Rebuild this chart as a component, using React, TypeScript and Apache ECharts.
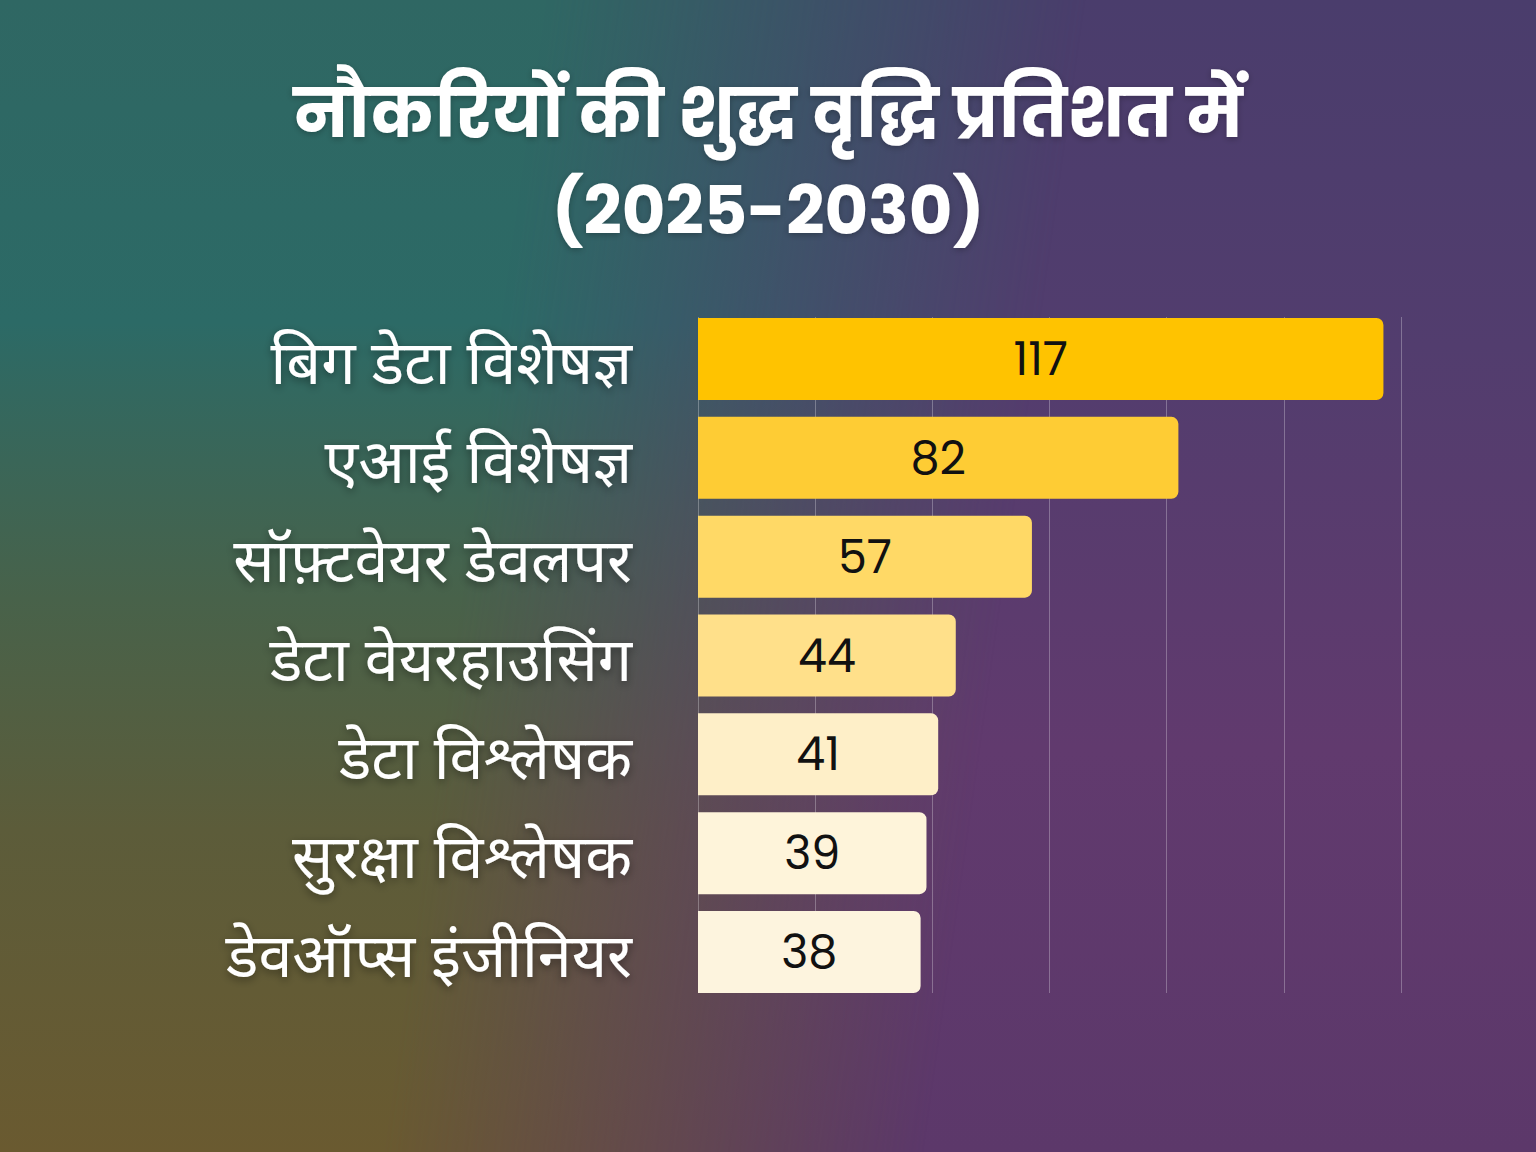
import React, { useEffect, useRef } from "react";
import * as echarts from "echarts";

const categories = [
  "बिग डेटा विशेषज्ञ",
  "एआई विशेषज्ञ",
  "सॉफ़्टवेयर डेवलपर",
  "डेटा वेयरहाउसिंग",
  "डेटा विश्लेषक",
  "सुरक्षा विश्लेषक",
  "डेवऑप्स इंजीनियर",
];
const values = [117, 82, 57, 44, 41, 39, 38];
const barColors = ["#FFC300", "#FECC34", "#FFD966", "#FFE08A", "#FEEFC8", "#FEF4DA", "#FDF4DE"];
const titleText = "नौकरियों की शुद्ध वृद्धि प्रतिशत में\n(2025-2030)";

const DEVA = "'Noto Sans Devanagari', 'Noto Sans', 'Lohit Devanagari', 'Mukta', sans-serif";

export default function App() {
  const ref = useRef<HTMLDivElement>(null);
  useEffect(() => {
    if (!ref.current) return;
    const chart = echarts.init(ref.current, undefined, { renderer: "svg" });
    const labelStyle = {
      color: "#ffffff",
      fontSize: 61,
      fontFamily: DEVA,
      lineHeight: 72,
      textShadowColor: "rgba(0,0,0,0.4)",
      textShadowBlur: 8,
      textShadowOffsetY: 3,
    };
    chart.setOption({
      animation: false,
      backgroundColor: "transparent",
      title: {
        text: titleText,
        left: "center",
        top: 60,
        textStyle: {
          color: "#ffffff",
          fontSize: 67,
          fontWeight: "bold",
          fontFamily: "Poppins, " + DEVA,
          lineHeight: 97,
          textShadowColor: "rgba(0,0,0,0.25)",
          textShadowBlur: 6,
          textShadowOffsetY: 2,
        },
      },
      grid: [
        { left: 698, right: 135, top: 309.6, bottom: 150.6 },
        { left: 698, right: 135, top: 317, bottom: 159 },
      ],
      xAxis: [
        {
          gridIndex: 0,
          type: "value",
          min: 0,
          max: 120,
          interval: 20,
          axisLabel: { show: false },
          axisLine: { show: false },
          axisTick: { show: false },
          splitLine: { show: false },
        },
        {
          gridIndex: 1,
          type: "value",
          min: 0,
          max: 120,
          interval: 20,
          axisLabel: { show: false },
          axisLine: { show: false },
          axisTick: { show: false },
          splitLine: { show: true, lineStyle: { color: "rgba(255,255,255,0.28)", width: 1 } },
        },
      ],
      yAxis: [
        {
          gridIndex: 0,
          type: "category",
          data: categories,
          inverse: true,
          axisLine: { show: false },
          axisTick: { show: false },
          splitLine: { show: false },
          axisLabel: {
            margin: 66,
            formatter: (v: string) => "{s| }\n{a|" + v + "}",
            rich: {
              s: { fontSize: 1, lineHeight: 20 },
              a: labelStyle,
            },
            ...labelStyle,
          },
        },
        {
          gridIndex: 1,
          type: "value",
          min: 0,
          max: 1,
          show: false,
        },
      ],
      series: [
        {
          type: "bar",
          xAxisIndex: 0,
          yAxisIndex: 0,
          barWidth: 82,
          data: values.map((v, i) => ({
            value: v,
            itemStyle: { color: barColors[i], borderRadius: [0, 7, 7, 0] },
          })),
          label: {
            show: true,
            position: "inside",
            color: "#111111",
            fontSize: 46,
            fontFamily: "Poppins, Inter, sans-serif",
            fontWeight: 400,
          },
          z: 3,
        },
      ],
    });
    return () => chart.dispose();
  }, []);

  const mask = "linear-gradient(98deg, black 0%, black 32%, transparent 64%)";
  return (
    <div
      style={{
        position: "fixed",
        left: 0,
        top: 0,
        width: 1536,
        height: 1152,
        background: "linear-gradient(180deg, #4a3d6c 0%, #523d6e 30%, #613a6e 65%, #5c386a 100%)",
      }}
    >
      <div
        style={{
          position: "absolute",
          left: 0,
          top: 0,
          width: 1536,
          height: 1152,
          background:
            "linear-gradient(180deg, #2f6763 0%, #2c6a66 28%, #48624a 52%, #5c5c3a 72%, #6a5a30 100%)",
          WebkitMaskImage: mask,
          maskImage: mask,
        }}
      />
      <div ref={ref} style={{ position: "absolute", left: 0, top: 0, width: 1536, height: 1152 }} />
    </div>
  );
}
